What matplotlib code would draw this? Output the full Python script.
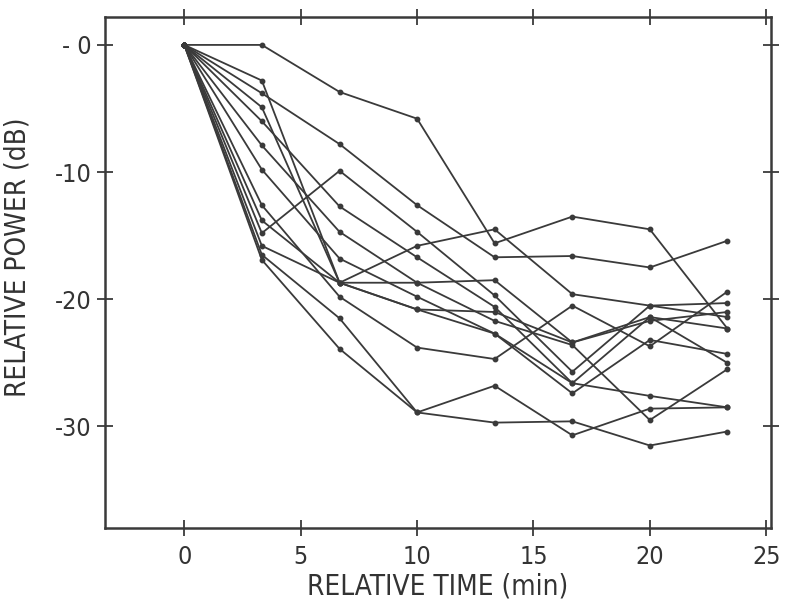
import matplotlib; matplotlib.use('Agg')
import matplotlib.pyplot as plt

t = [0, 3.33, 6.67, 10.0, 13.33, 16.67, 20.0, 23.33]
s1 = [0, 0.0, -3.7, -5.8, -15.6, -13.5, -14.5, -22.3]
s2 = [0, -3.8, -7.8, -12.6, -16.7, -16.6, -17.5, -15.4]
s3 = [0, -2.8, -18.7, -18.7, -18.5, -23.4, -21.7, -21.0]
s4 = [0, -14.8, -9.9, -14.7, -19.7, -25.7, -20.5, -21.4]
s5 = [0, -4.9, -18.7, -15.8, -14.5, -19.6, -20.5, -20.3]
s6 = [0, -6.0, -12.7, -16.7, -20.6, -26.6, -21.4, -25.0]
s7 = [0, -7.9, -14.7, -18.7, -21.7, -23.6, -29.5, -25.5]
s8 = [0, -9.8, -16.8, -19.8, -22.7, -27.4, -23.2, -24.3]
s9 = [0, -16.9, -23.9, -28.9, -26.8, -30.7, -28.6, -28.5]
s10 = [0, -16.5, -21.5, -28.9, -29.7, -29.6, -31.5, -30.4]
s11 = [0, -12.6, -19.8, -23.8, -24.7, -20.5, -23.7, -19.4]
s12 = [0, -15.8, -18.7, -20.8, -22.7, -26.6, -27.6, -28.5]
s13 = [0, -13.8, -18.7, -20.8, -21.0, -23.4, -21.4, -22.3]
runs = [s1, s2, s3, s4, s5, s6, s7, s8, s9, s10, s11, s12, s13]
xticks = [0, 5, 10, 15, 20, 25]
yticks = [0, -10, -20, -30]
ylabels = ['- 0', '-10', '-20', '-30']

plt.rcParams['font.family'] = ['DejaVu Sans']
plt.rcParams['font.stretch'] = 'condensed'
fig = plt.figure(figsize=(7.85, 6.05), dpi=100)
ax = fig.add_axes([0.134, 0.127, 0.848, 0.845])
ink = '#3a3a3a'
for r in runs:
    ax.plot(t, r, '-o', color=ink, lw=1.3, ms=3.2, mfc=ink, mec=ink)

ax.set_xlim(-3.4, 25.2); ax.set_ylim(-38.0, 2.2)
ax.set_xticks(xticks); ax.set_yticks(yticks); ax.set_yticklabels(ylabels)
for sp in ax.spines.values(): sp.set_linewidth(1.8); sp.set_color(ink)
ax.tick_params(axis='both', which='both', color=ink, width=1.3, labelsize=18, labelcolor='#333')
ax.tick_params(axis='x', direction='inout', length=12, top=True, pad=6)
ax.tick_params(axis='y', direction='inout', length=12, right=True, pad=4)
ax.set_xlabel('RELATIVE TIME (min)', fontsize=20, color='#333', labelpad=3)
ax.set_ylabel('RELATIVE POWER (dB)', fontsize=20, color='#333')
ax.yaxis.set_label_coords(-0.11, 0.53)
plt.savefig('out.png', dpi=100)
